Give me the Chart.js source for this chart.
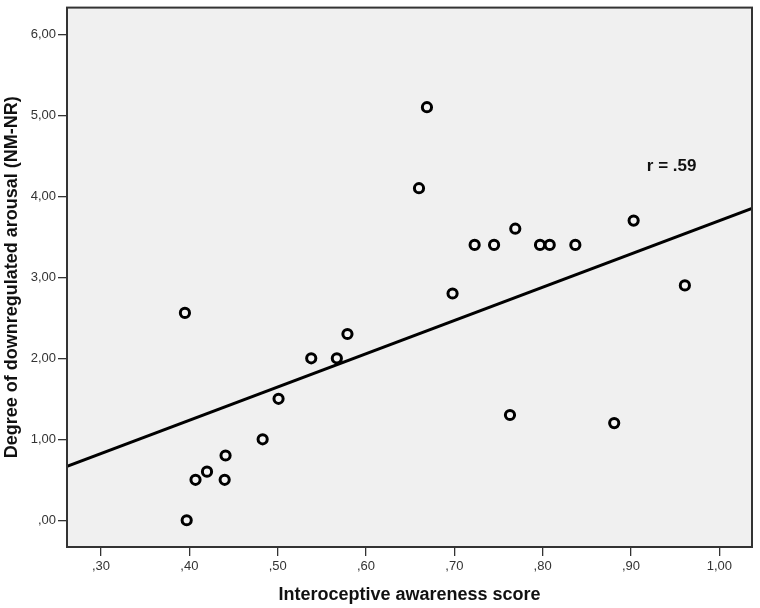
<!DOCTYPE html>
<html><head><meta charset="utf-8">
<script src="https://cdn.jsdelivr.net/npm/chart.js@4.4.1/dist/chart.umd.min.js"></script>
<style>html,body{margin:0;padding:0;background:#fff}#wrap{width:760px;height:608px}</style>
</head><body><div id="wrap"><canvas id="c"></canvas></div>
<script>
// Data
const awareness = [0.397,0.395,0.407,0.420,0.441,0.440,0.483,0.501,0.538,0.567,0.579,0.660,0.669,0.698,0.723,0.745,0.769,0.763,0.797,0.808,0.837,0.903,0.881,0.961];
const arousal   = [0.00,2.56,0.50,0.60,0.80,0.50,1.00,1.50,2.00,2.00,2.30,4.10,5.10,2.80,3.40,3.40,3.60,1.30,3.40,3.40,3.40,3.70,1.20,2.90];
const xTicks = [0.30,0.40,0.50,0.60,0.70,0.80,0.90,1.00];
const yTicks = [0,1,2,3,4,5,6];
const xRange = [0.2615,1.037];
const yRange = [-0.33,6.33];
const fitSlope = 4.11, fitIntercept = -0.41;
const rLabel = 'r = .59';
const rLabelPos = [0.946, 4.37];

const points = awareness.map((x,i)=>({x:x,y:arousal[i]}));
const fitLine = xRange.map(x=>({x:x,y:fitIntercept+fitSlope*x}));
const fmt = v => v.toFixed(2).replace('.',',').replace(/^0/,'');
const FF = '"Liberation Sans", Arial, sans-serif';

const frame = {
  id:'frame',
  beforeDraw(ch){const a=ch.chartArea,c=ch.ctx;c.save();c.fillStyle='#f0f0f0';c.fillRect(a.left,a.top,a.right-a.left,a.bottom-a.top);c.restore();},
  afterDraw(ch){const a=ch.chartArea,c=ch.ctx;c.save();c.strokeStyle='#333';c.lineWidth=2;c.strokeRect(a.left,a.top,a.right-a.left,a.bottom-a.top);
    c.fillStyle='#111';c.font='bold 17px '+FF;c.textAlign='center';c.textBaseline='middle';
    c.fillText(rLabel, ch.scales.x.getPixelForValue(rLabelPos[0]), ch.scales.y.getPixelForValue(rLabelPos[1]));c.restore();}
};

new Chart(document.getElementById('c'),{
  type:'scatter',
  data:{datasets:[
    {type:'line',data:fitLine,borderColor:'#000',borderWidth:3,pointRadius:0,fill:false,order:2},
    {data:points,pointRadius:4.6,pointBorderWidth:3,pointBorderColor:'#000',pointBackgroundColor:'#f4f4f4',order:1}
  ]},
  options:{
    responsive:true,maintainAspectRatio:false,animation:false,
    layout:{padding:{top:6,right:8,left:0,bottom:0}},
    plugins:{legend:{display:false},tooltip:{enabled:false}},
    scales:{
      x:{type:'linear',min:xRange[0],max:xRange[1],
        afterBuildTicks(s){s.ticks=xTicks.map(v=>({value:v}));},
        afterFit(s){s.height=61;s.paddingLeft=0;s.paddingRight=0;},
        grid:{drawOnChartArea:false,drawTicks:true,tickLength:9,color:'#333',lineWidth:1.3},
        border:{display:true,color:'#333',width:2},
        ticks:{callback:v=>fmt(v),color:'#333',font:{family:FF,size:13},padding:3,maxRotation:0,autoSkip:false},
        title:{display:true,text:'Interoceptive awareness score',color:'#111',font:{family:FF,size:18,weight:'bold'},padding:{top:4,bottom:2}}
      },
      y:{type:'linear',min:yRange[0],max:yRange[1],
        afterBuildTicks(s){s.ticks=yTicks.map(v=>({value:v}));},
        afterFit(s){s.width=67;s.paddingTop=0;s.paddingBottom=0;},
        grid:{drawOnChartArea:false,drawTicks:true,tickLength:9,color:'#333',lineWidth:1.3},
        border:{display:true,color:'#333',width:2},
        ticks:{callback:v=>fmt(v),color:'#333',font:{family:FF,size:13},padding:2,autoSkip:false},
        title:{display:true,text:'Degree of downregulated arousal (NM-NR)',color:'#111',font:{family:FF,size:18,weight:'bold'},padding:{top:1,bottom:0}}
      }
    }
  },
  plugins:[frame]
});
</script></body></html>
